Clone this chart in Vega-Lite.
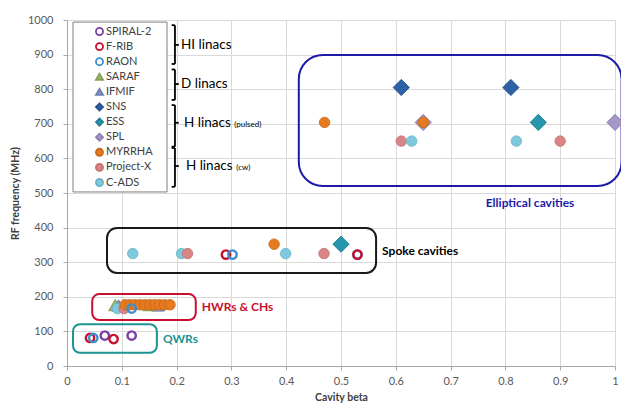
{
  "$schema": "https://vega.github.io/schema/vega-lite/v6.json",
  "width": 548,
  "height": 346,
  "autosize": {"type": "none"},
  "padding": {"left": 67, "top": 20, "right": 6, "bottom": 48},
  "background": "white",
  "config": {
    "font": "Lato",
    "view": {"stroke": null},
    "axis": {
      "gridColor": "#d9d9d9",
      "gridWidth": 1,
      "domainColor": "#a6a6a6",
      "tickColor": "#a6a6a6",
      "tickSize": 4,
      "labelColor": "#595959",
      "labelFontSize": 11,
      "labelFont": "Lato",
      "titleFont": "Lato",
      "titleFontSize": 10.5,
      "titleFontWeight": "bold",
      "titleColor": "#404040"
    }
  },
  "encoding": {
    "x": {
      "field": "beta",
      "type": "quantitative",
      "scale": {"domain": [0, 1], "nice": false, "zero": false},
      "axis": {"title": "Cavity beta", "values": [0, 0.1, 0.2, 0.3, 0.4, 0.5, 0.6, 0.7, 0.8, 0.9, 1], "format": "~g", "labelPadding": 5, "titlePadding": 6, "labelFlush": false}
    },
    "y": {
      "field": "freq",
      "type": "quantitative",
      "scale": {"domain": [0, 1000], "nice": false},
      "axis": {"title": "RF frequency (MHz)", "values": [0, 100, 200, 300, 400, 500, 600, 700, 800, 900, 1000], "format": "d", "labelPadding": 10, "titlePadding": 7}
    }
  },
  "layer": [
    {
      "data": {"values": [{"beta": 0.011, "beta2": 0.1825, "freq": 994, "freq2": 503}]},
      "mark": {"type": "rect", "fill": "white", "stroke": "#7f7f7f", "strokeWidth": 1},
      "encoding": {"x2": {"field": "beta2"}, "y2": {"field": "freq2"}}
    },
    {
      "data": {"values": [{"beta": 0.423, "beta2": 1.012, "freq": 899, "freq2": 520}]},
      "mark": {"type": "rect", "fill": null, "fillOpacity": 0, "stroke": "#1c1ca8", "strokeWidth": 2, "cornerRadius": 24},
      "encoding": {"x2": {"field": "beta2"}, "y2": {"field": "freq2"}}
    },
    {
      "data": {"values": [{"beta": 0.073, "beta2": 0.564, "freq": 399, "freq2": 269}]},
      "mark": {"type": "rect", "fill": null, "fillOpacity": 0, "stroke": "#1a1a1a", "strokeWidth": 2, "cornerRadius": 10},
      "encoding": {"x2": {"field": "beta2"}, "y2": {"field": "freq2"}}
    },
    {
      "data": {"values": [{"beta": 0.046, "beta2": 0.235, "freq": 208, "freq2": 133}]},
      "mark": {"type": "rect", "fill": null, "fillOpacity": 0, "stroke": "#c8102e", "strokeWidth": 2, "cornerRadius": 7},
      "encoding": {"x2": {"field": "beta2"}, "y2": {"field": "freq2"}}
    },
    {
      "data": {"values": [{"beta": 0.011, "beta2": 0.164, "freq": 121, "freq2": 38}]},
      "mark": {"type": "rect", "fill": null, "fillOpacity": 0, "stroke": "#1d9494", "strokeWidth": 2, "cornerRadius": 7},
      "encoding": {"x2": {"field": "beta2"}, "y2": {"field": "freq2"}}
    },
    {
      "data": {"values": [
        {"beta": 0.197, "beta2": 0.197, "freq": 985, "freq2": 873},
        {"beta": 0.191, "beta2": 0.197, "freq": 985, "freq2": 985},
        {"beta": 0.191, "beta2": 0.197, "freq": 873, "freq2": 873},
        {"beta": 0.197, "beta2": 0.204, "freq": 928, "freq2": 928},
        {"beta": 0.197, "beta2": 0.197, "freq": 857, "freq2": 769},
        {"beta": 0.191, "beta2": 0.197, "freq": 857, "freq2": 857},
        {"beta": 0.191, "beta2": 0.197, "freq": 769, "freq2": 769},
        {"beta": 0.197, "beta2": 0.204, "freq": 815, "freq2": 815},
        {"beta": 0.197, "beta2": 0.197, "freq": 754, "freq2": 634},
        {"beta": 0.191, "beta2": 0.197, "freq": 754, "freq2": 754},
        {"beta": 0.191, "beta2": 0.197, "freq": 634, "freq2": 634},
        {"beta": 0.197, "beta2": 0.204, "freq": 703, "freq2": 703},
        {"beta": 0.197, "beta2": 0.197, "freq": 630, "freq2": 518},
        {"beta": 0.191, "beta2": 0.197, "freq": 630, "freq2": 630},
        {"beta": 0.191, "beta2": 0.197, "freq": 518, "freq2": 518},
        {"beta": 0.197, "beta2": 0.204, "freq": 578, "freq2": 578}
      ]},
      "mark": {"type": "rule", "color": "#000000", "strokeWidth": 1.8},
      "encoding": {"x2": {"field": "beta2"}, "y2": {"field": "freq2"}}
    },
    {
      "data": {"values": [
        {"label": "HI linacs", "beta": 0.208, "freq": 928},
        {"label": "D linacs", "beta": 0.208, "freq": 815},
        {"label": "H linacs", "beta": 0.2135, "freq": 703},
        {"label": "H linacs", "beta": 0.217, "freq": 578}
      ]},
      "mark": {"type": "text", "align": "left", "baseline": "middle", "fontSize": 13.5, "color": "#000000", "font": "Lato"},
      "encoding": {"text": {"field": "label"}}
    },
    {
      "data": {"values": [
        {"label": "(pulsed)", "beta": 0.305, "freq": 697},
        {"label": "(cw)", "beta": 0.309, "freq": 572}
      ]},
      "mark": {"type": "text", "align": "left", "baseline": "middle", "fontSize": 8, "color": "#000000", "font": "Lato"},
      "encoding": {"text": {"field": "label"}}
    },
    {
      "data": {"values": [{"label": "Elliptical cavities", "beta": 0.845, "freq": 471}]},
      "mark": {"type": "text", "align": "center", "baseline": "middle", "fontSize": 12, "fontWeight": "bold", "color": "#1c1ca8", "font": "Lato"},
      "encoding": {"text": {"field": "label"}}
    },
    {
      "data": {"values": [{"label": "Spoke cavities", "beta": 0.575, "freq": 332}]},
      "mark": {"type": "text", "align": "left", "baseline": "middle", "fontSize": 12, "fontWeight": "bold", "color": "#000000", "font": "Lato"},
      "encoding": {"text": {"field": "label"}}
    },
    {
      "data": {"values": [{"label": "HWRs & CHs", "beta": 0.246, "freq": 170}]},
      "mark": {"type": "text", "align": "left", "baseline": "middle", "fontSize": 12, "fontWeight": "bold", "color": "#c8102e", "font": "Lato"},
      "encoding": {"text": {"field": "label"}}
    },
    {
      "data": {"values": [{"label": "QWRs", "beta": 0.175, "freq": 78}]},
      "mark": {"type": "text", "align": "left", "baseline": "middle", "fontSize": 12, "fontWeight": "bold", "color": "#1d9494", "font": "Lato"},
      "encoding": {"text": {"field": "label"}}
    },
    {
      "data": {"values": [
        {"series": "F-RIB", "beta": 0.042, "freq": 81},
        {"series": "RAON", "beta": 0.048, "freq": 81},
        {"series": "SPIRAL-2", "beta": 0.069, "freq": 88},
        {"series": "F-RIB", "beta": 0.085, "freq": 78},
        {"series": "SPIRAL-2", "beta": 0.118, "freq": 88},
        {"series": "RAON", "beta": 0.118, "freq": 166},
        {"series": "SARAF", "beta": 0.088, "freq": 176},
        {"series": "IFMIF", "beta": 0.094, "freq": 175},
        {"series": "IFMIF", "beta": 0.166, "freq": 175},
        {"series": "SARAF", "beta": 0.15, "freq": 176},
        {"series": "C-ADS", "beta": 0.092, "freq": 166},
        {"series": "Project-X", "beta": 0.104, "freq": 166},
        {"series": "MYRRHA", "beta": 0.106, "freq": 177},
        {"series": "MYRRHA", "beta": 0.115, "freq": 177},
        {"series": "MYRRHA", "beta": 0.124, "freq": 177},
        {"series": "MYRRHA", "beta": 0.133, "freq": 177},
        {"series": "MYRRHA", "beta": 0.142, "freq": 177},
        {"series": "MYRRHA", "beta": 0.151, "freq": 177},
        {"series": "MYRRHA", "beta": 0.16, "freq": 177},
        {"series": "MYRRHA", "beta": 0.169, "freq": 177},
        {"series": "MYRRHA", "beta": 0.178, "freq": 177},
        {"series": "MYRRHA", "beta": 0.188, "freq": 177},
        {"series": "C-ADS", "beta": 0.12, "freq": 325},
        {"series": "C-ADS", "beta": 0.209, "freq": 325},
        {"series": "Project-X", "beta": 0.22, "freq": 325},
        {"series": "F-RIB", "beta": 0.29, "freq": 322},
        {"series": "RAON", "beta": 0.302, "freq": 322},
        {"series": "MYRRHA", "beta": 0.378, "freq": 352},
        {"series": "C-ADS", "beta": 0.399, "freq": 325},
        {"series": "Project-X", "beta": 0.469, "freq": 325},
        {"series": "ESS", "beta": 0.5, "freq": 352},
        {"series": "RAON", "beta": 0.53, "freq": 322},
        {"series": "F-RIB", "beta": 0.53, "freq": 322},
        {"series": "MYRRHA", "beta": 0.47, "freq": 704},
        {"series": "SNS", "beta": 0.61, "freq": 805},
        {"series": "Project-X", "beta": 0.61, "freq": 650},
        {"series": "C-ADS", "beta": 0.629, "freq": 650},
        {"series": "SPL", "beta": 0.65, "freq": 704},
        {"series": "MYRRHA", "beta": 0.65, "freq": 704},
        {"series": "C-ADS", "beta": 0.82, "freq": 650},
        {"series": "SNS", "beta": 0.81, "freq": 805},
        {"series": "ESS", "beta": 0.86, "freq": 704},
        {"series": "Project-X", "beta": 0.9, "freq": 650},
        {"series": "SPL", "beta": 1.0, "freq": 704}
      ]},
      "encoding": {
        "shape": {
          "field": "series", "type": "nominal",
          "scale": {
            "domain": ["SPIRAL-2", "F-RIB", "RAON", "SARAF", "IFMIF", "SNS", "ESS", "SPL", "MYRRHA", "Project-X", "C-ADS"],
            "range": ["circle", "circle", "circle", "triangle-up", "triangle-up", "diamond", "diamond", "diamond", "circle", "circle", "circle"]
          },
          "legend": {
            "title": null, "orient": "none", "legendX": 27, "legendY": 6, "padding": 0,
            "columns": 1, "direction": "vertical",
            "symbolSize": 50, "symbolStrokeWidth": 1.8, "labelFontSize": 11, "labelFont": "Lato",
            "labelColor": "#404040", "rowPadding": 0.1, "labelOffset": 1
          }
        },
        "fill": {
          "field": "series", "type": "nominal",
          "scale": {
            "domain": ["SPIRAL-2", "F-RIB", "RAON", "SARAF", "IFMIF", "SNS", "ESS", "SPL", "MYRRHA", "Project-X", "C-ADS"],
            "range": ["transparent", "transparent", "transparent", "#9bb56b", "#8094c4", "#2e62a8", "#2696ad", "#a796c8", "#e57a1e", "#d98585", "#7fc9dc"]
          }
        },
        "stroke": {
          "field": "series", "type": "nominal",
          "scale": {
            "domain": ["SPIRAL-2", "F-RIB", "RAON", "SARAF", "IFMIF", "SNS", "ESS", "SPL", "MYRRHA", "Project-X", "C-ADS"],
            "range": ["#7a3fa6", "#c8102e", "#3b8fd0", "#86a05a", "#6c80b0", "#24508c", "#1f7f93", "#8f7fb3", "#c8661a", "#c27070", "#68b2c6"]
          }
        }
      },
      "layer": [
        {
          "transform": [{"filter": {"field": "series", "oneOf": ["SARAF", "IFMIF"]}}],
          "mark": {"type": "point", "size": 170, "opacity": 1, "strokeWidth": 1}
        },
        {
          "transform": [{"filter": {"field": "series", "oneOf": ["SNS", "ESS", "SPL"]}}],
          "mark": {"type": "point", "size": 260, "opacity": 1, "strokeWidth": 1}
        },
        {
          "transform": [{"filter": {"field": "series", "oneOf": ["MYRRHA", "Project-X", "C-ADS"]}}],
          "mark": {"type": "point", "size": 110, "opacity": 1, "strokeWidth": 0.8}
        },
        {
          "transform": [{"filter": {"field": "series", "oneOf": ["SPIRAL-2", "F-RIB", "RAON"]}}],
          "mark": {"type": "point", "size": 70, "opacity": 1, "strokeWidth": 2.4}
        }
      ]
    }
  ]
}
